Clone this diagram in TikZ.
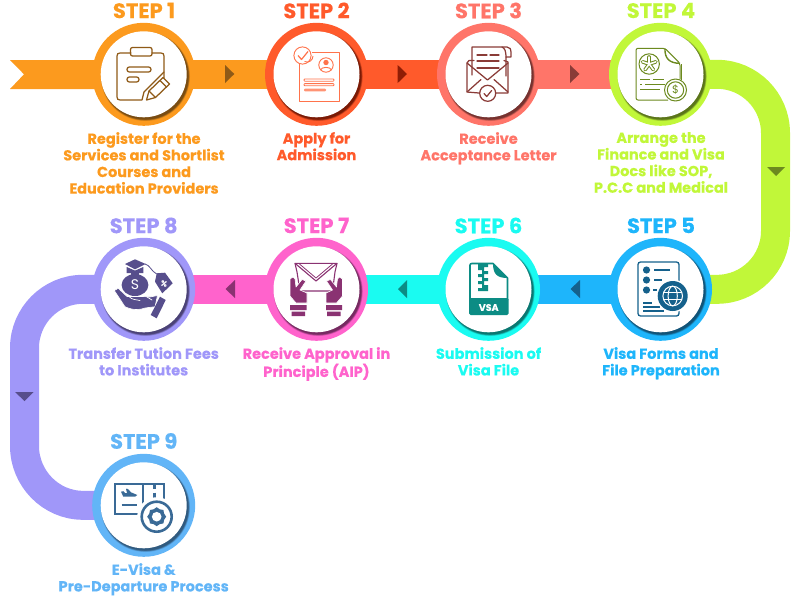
\documentclass[tikz,border=0pt]{standalone}
\usepackage{fontspec}
\setmainfont{Poppins}[BoldFeatures={FakeBold=0.35}]
\definecolor{cA}{HTML}{FC9A1E}\definecolor{dA}{HTML}{8F5A17}
\definecolor{cB}{HTML}{FF5A2B}\definecolor{dB}{HTML}{8F1D05}
\definecolor{cC}{HTML}{FF7569}\definecolor{dC}{HTML}{8A3B37}
\definecolor{cD}{HTML}{C1F739}\definecolor{dD}{HTML}{6C8A1F}
\definecolor{cE}{HTML}{1EB5FB}\definecolor{dE}{HTML}{15618C}
\definecolor{cF}{HTML}{1AFBF1}\definecolor{dF}{HTML}{0C8C84}
\definecolor{cG}{HTML}{FF63CC}\definecolor{dG}{HTML}{8A3272}
\definecolor{cH}{HTML}{A097F9}\definecolor{dH}{HTML}{574E8C}
\definecolor{cI}{HTML}{62B5F7}\definecolor{dI}{HTML}{3A6A96}
\tikzset{
 band/.style={line width=29pt,line cap=butt},
 steplabel/.style={font=\bfseries\fontsize{21}{21}\selectfont,inner sep=0pt,anchor=center},
 desc/.style={font=\bfseries\fontsize{14.5}{16.6}\selectfont,align=center,inner sep=0pt,anchor=north},
 ring/.style={circle,inner sep=0pt,minimum size=103pt,fill=#1},
 disc/.style={circle,inner sep=0pt,minimum size=86pt,fill=white},
 ln/.style={line width=1.25pt,line join=round,line cap=round},
}
\usetikzlibrary{calc}
\newcommand{\shadowdisc}[2]{%
 \foreach \rr/\op in {44.6/.18,44.2/.25,43.8/.35,43.4/.5,43/.7}{\fill[#2,opacity=\op] ($(#1)+(1.7,2.1)$) circle (\rr);}}
\newcommand{\stepper}[4]{% name, coord, ring colour, shadow colour
 \node[ring=#3] (#1) at (#2) {};
 \shadowdisc{#2}{#4}
 \node[disc] (#1w) at (#2) {};
}
\begin{document}
\begin{tikzpicture}[x=1pt,y=-1pt]
\useasboundingbox (0,0) rectangle (800,600);
\coordinate (c1) at (143.7,74.3);
\coordinate (c2) at (316.5,74.3);
\coordinate (c3) at (488.5,74.3);
\coordinate (c4) at (660.5,74.3);
\coordinate (c5) at (660.5,289.3);
\coordinate (c6) at (488.5,289.3);
\coordinate (c7) at (316.5,289.3);
\coordinate (c8) at (143.7,289.3);
\coordinate (c9) at (143.7,505.3);
\coordinate (tailtop) at (10,60);
\coordinate (tailmid) at (24,74.3);
\coordinate (tailbot) at (10,89);
% bands
\fill[cA] (tailtop) -- (tailmid) -- (tailbot) -- (c1|-tailbot) -- (c1|-tailtop) -- cycle;
\draw[band,cA] (c1) -- (c2);
\draw[band,cB] (c2) -- (c3);
\draw[band,cC] (c3) -- (c4);
\draw[band,cD] (c4) -- (717,74.3) .. controls (749.3,74.3) and (775.5,100.7) .. (775.5,133)
  -- (775.5,231) .. controls (775.5,263.3) and (749.3,289.3) .. (717,289.3) -- (c5);
\draw[band,cE] (c5) -- (c6);
\draw[band,cF] (c6) -- (c7);
\draw[band,cG] (c7) -- (c8);
\draw[band,cH] (c8) -- (83,289.3) .. controls (50.7,289.3) and (24.5,315.7) .. (24.5,348)
  -- (24.5,446) .. controls (24.5,478.3) and (50.7,505.3) .. (83,505.3) -- (c9);
% arrowheads on the bands
\fill[dA] (225,65) -- (234.3,74) -- (225,83) -- cycle;
\fill[dB] (397.7,65) -- (407,74) -- (397.7,83) -- cycle;
\fill[dC] (570,65) -- (579.5,74) -- (570,83) -- cycle;
\fill[dD] (767,167) -- (785,167) -- (776,176) -- cycle;
\fill[dE] (580,280) -- (570.5,289) -- (580,298) -- cycle;
\fill[dF] (407,280) -- (398,289) -- (407,298) -- cycle;
\fill[dG] (235,280) -- (225.5,289) -- (235,298) -- cycle;
\fill[dH] (15,392) -- (33.5,392) -- (24.5,401) -- cycle;
% circles
\stepper{s1}{c1}{cA}{dA!80!black}
\stepper{s2}{c2}{cB}{dB!80!black}
\stepper{s3}{c3}{cC}{dC!80!black}
\stepper{s4}{c4}{cD}{dD!80!black}
\stepper{s5}{c5}{cE}{dE!80!black}
\stepper{s6}{c6}{cF}{dF!80!black}
\stepper{s7}{c7}{cG}{dG!80!black}
\stepper{s8}{c8}{cH}{dH!80!black}
\stepper{s9}{c9}{cI}{dI!80!black}
% labels
\node[steplabel,cA] (t1) at (144,10.5) {STEP 1};
\node[steplabel,cB] (t2) at (316.5,10.5) {STEP 2};
\node[steplabel,cC] (t3) at (488.5,10.5) {STEP 3};
\node[steplabel,cD] (t4) at (661,10.5) {STEP 4};
\node[steplabel,cE] (t5) at (661,225.5) {STEP 5};
\node[steplabel,cF] (t6) at (488.5,225.5) {STEP 6};
\node[steplabel,cG] (t7) at (316.5,225.5) {STEP 7};
\node[steplabel,cH] (t8) at (143.7,225.5) {STEP 8};
\node[steplabel,cI] (t9) at (143.7,441) {STEP 9};
\node[desc,cA] (d1) at (144,132) {Register for the\\Services and Shortlist\\Courses and\\Education Providers};
\node[desc,cB] (d2) at (316.5,132) {Apply for\\Admission};
\node[desc,cC] (d3) at (488.5,132) {Receive\\Acceptance Letter};
\node[desc,cD] (d4) at (661,132) {Arrange the\\Finance and Visa\\Docs like SOP,\\P.C.C and Medical};
\node[desc,cE] (d5) at (661,347) {Visa Forms and\\File Preparation};
\node[desc,cF] (d6) at (488.5,347) {Submission of\\Visa File};
\node[desc,cG] (d7) at (316.5,347) {Receive Approval in\\Principle (AIP)};
\node[desc,cH] (d8) at (143.7,347) {Transfer Tution Fees\\to Institutes};
\node[desc,cI] (d9) at (143.7,563) {E-Visa \&\\Pre-Departure Process};
% icon 1
\begin{scope}[ln,draw=dA]
\draw (164,78) -- (164,56) .. controls (164,54) and (163,53) .. (161,53) -- (152,53);
\draw (131,53) -- (120,53) .. controls (118,53) and (117,54) .. (117,56) -- (117,97) .. controls (117,99) and (118,100) .. (120,100) -- (142,100) -- (144,92) -- (164,72);
\draw[rounded corners=2pt] (130.5,47.5) rectangle (152,56);
\draw[rounded corners=2.3pt] (127,67) rectangle (151,72);
\draw[rounded corners=2.3pt] (127,77) rectangle (139,82);
\draw[line join=round] (146.5,100) -- (149,91) -- (163,77.5) -- (169.5,84) -- (155.5,97.5) -- cycle;
\draw (160,80.5) -- (166.5,87);
\draw (149,91) -- (155.5,97.5);
\end{scope}
% icon 2
\begin{scope}[draw=cB!85!white,line width=.9pt,line join=round]
\draw (299,64) -- (299,101) -- (339,101) -- (339,52) -- (312,52);
\draw[fill=white] (302.5,55.5) circle (8.6);
\draw (304.5,61.5) .. controls (309,63.5) and (313,60) .. (313,56);
\draw[line width=1.2pt] (298,55.5) -- (301.5,59.5) -- (308,51.5);
\draw (326,65) circle (7.2);
\fill[cB!85!white] (326,62.5) circle (2.7);
\draw (320.5,70) .. controls (321.5,66.5) and (330.5,66.5) .. (331.5,70);
\draw[line width=.8pt,rounded corners=.8pt] (304,79) rectangle (334,81.2);
\draw[line width=.8pt,rounded corners=.8pt] (304,83.6) rectangle (334,85.8);
\fill[cB!65!white,rounded corners=1pt] (304,88.7) rectangle (326,91.3);
\end{scope}
% icon 3
\begin{scope}[ln,draw=dC]
\draw (474,60.5) -- (469,60.5) -- (467,63) -- (467,92) -- (479,93);
\draw (504,60.5) -- (508,62) -- (508,93) -- (496,93);
\draw (467,63) -- (487.5,80) -- (508,63);
\draw (467,92) -- (481,79.5);
\draw (508,92) -- (494,79.5);
\draw (472,75) -- (472,47) -- (507,47) .. controls (510,47) and (511,49) .. (511,53) -- (511,57) -- (506,57) -- (506,76);
\draw (502,47) .. controls (505,48) and (506,52) .. (506,57);
\draw[line width=1.3pt] (477,55) -- (487,55) (490,55) -- (499,55);
\draw[line width=1.3pt] (477,61) -- (499,61);
\draw[line width=1.3pt] (477,68) -- (499,68);
\draw[fill=white] (487.7,93.3) circle (8);
\draw (484,93.5) -- (486.7,96.5) -- (491.7,90.5);
\end{scope}
% icon 4
\begin{scope}[draw=dD,line width=1pt,line join=round]
\draw[rounded corners=2pt] (668,100) -- (636,100) -- (636,48.3) -- (665,48.3) -- (680,63.3) -- (680,79);
\draw[line width=1.8pt] (681.5,64) -- (681.5,80);
\draw[line width=1.4pt] (665,48.3) .. controls (664.5,58) and (669,63.3) .. (680,63.3);
\draw (649.2,64) circle (10.2);
\foreach \a in {90,162,234,306,18}{\draw[line width=3.6pt,line cap=round] (649.2,64) -- ++({7*cos(\a)},{-7*sin(\a)});}
\foreach \a in {90,162,234,306,18}{\draw[white,line width=1.6pt,line cap=round] (649.2,64) -- ++({7*cos(\a)},{-7*sin(\a)});}
\draw (640,79.3) -- (650,79.3) (653,79.3) -- (664,79.3);
\draw (640,84.3) -- (642,84.3) (645,84.3) -- (665,84.3);
\draw (640,89.3) -- (660,89.3);
\draw[fill=white] (675.5,90) circle (11);
\draw (675.5,90) circle (8.2);
\node[dD,inner sep=0pt,font=\fontsize{11}{11}\selectfont] (dollar4) at (675.5,90) {\$};
\end{scope}
% icon 5
\begin{scope}[draw=dE,line width=1.3pt]
\draw[rounded corners=2.5pt] (638,262) rectangle (679,316);
\fill[dE] (646.5,270) circle (3.6) (646.5,280) circle (3.6) (646.5,290) circle (3.6);
\draw (654,270) -- (670,270) (654,280) -- (662,280) (653,290) -- (657,290);
\draw (643,303) -- (652,303) (643,307) -- (660,307) (643,311) -- (664,311);
\fill[white] (672.7,296) circle (16.5);
\fill[dE] (672.7,296) circle (15);
\draw[white,line width=1pt] (672.7,296) circle (9.8);
\draw[white,line width=1pt] (672.7,296) ellipse (4.6 and 9.8);
\draw[white,line width=1pt] (663.5,292.5) -- (682,292.5) (663.5,299.5) -- (682,299.5);
\end{scope}
% icon 6
\begin{scope}
\draw[dF,line width=1.6pt,line join=round] (470,300) -- (470,265) .. controls (470,264) and (471,263.5) .. (472,263.5) -- (493,263.5) -- (507.5,278) -- (507.5,300);
\fill[dF] (493,263.5) .. controls (493,274) and (497,278) .. (507.5,278) -- cycle;
\fill[dF,rounded corners=1.5pt] (469,298) rectangle (508.5,315);
\fill[dF] (478,264) -- (488,264) -- (488,267) -- (484,267) -- (484,271) -- (488,271) -- (488,274) -- (484,274) -- (484,278) -- (488,278) -- (488,281) -- (484,281) -- (484,285) -- (488,285) -- (488,291) -- (478,291) -- (478,288) -- (482,288) -- (482,284) -- (478,284) -- (478,281) -- (482,281) -- (482,277) -- (478,277) -- (478,274) -- (482,274) -- (482,270) -- (478,270) -- cycle;
\node[white,inner sep=0pt,font=\bfseries\fontsize{9.5}{9.5}\selectfont] (vsa) at (488.7,307.5) {VSA};
\end{scope}
% icon 7
\begin{scope}[line join=round]
\draw[dG,line width=1.1pt] (295,263.3) -- (337,263.3) -- (335,272) -- (332.5,291) -- (300,291) -- (297,272) -- cycle;
\draw[dG,line width=1.1pt] (295,263.3) -- (316,281) -- (337,263.3);
\draw[dG,line width=.8pt] (299.5,264) -- (316,278) -- (332.5,264);
\fill[dG,draw=white,line width=.6pt] (290,279) -- (293,277) -- (295,279) -- (296,287) -- (302,279.5) -- (306,281) -- (300,290) -- (307,293) -- (307,303) -- (296,303) -- (290,296) -- cycle;
\fill[dG,draw=white,line width=.6pt] (342.5,279) -- (339.5,277) -- (337.5,279) -- (336.5,287) -- (330.5,279.5) -- (326.5,281) -- (332.5,290) -- (326,293) -- (326,303) -- (336.5,303) -- (342.5,296) -- cycle;
\fill[dG] (290,305) rectangle (306.7,310) (291.7,311.5) rectangle (305,316);
\fill[dG] (326,305) rectangle (342,310) (327,311.5) rectangle (340.5,316);
\end{scope}
% icon 8
\begin{scope}[line join=round]
\fill[dH] (135,285) ellipse (13.4 and 11);
\fill[dH] (131,272) rectangle (139,280);
\fill[dH] (126.7,267) -- (135,270.6) -- (143.3,267) -- (143.3,273) -- (126.7,273) -- cycle;
\fill[dH] (125,264) -- (135,259.3) -- (145.7,264) -- (135,269.3) -- cycle;
\draw[dH,line width=.8pt] (145,264) .. controls (150,265) and (151,271) .. (156.7,274);
\fill[dH] (156.7,273.3) -- (165,272.7) -- (172.7,283.3) -- (162.3,293.3) -- (155,281.7) -- cycle;
\node[white,inner sep=0pt,rotate=-20,font=\bfseries\fontsize{7.5}{7.5}\selectfont] (pct8) at (164,283.5) {\%};
\node[white,inner sep=0pt,font=\fontsize{14}{14}\selectfont] (dollar8) at (135,285) {S};
\fill[dH,draw=white,line width=.6pt] (114.3,290.5) -- (118.3,288.3) -- (127,296.5) -- (143,296.5) -- (150,297) -- (157.5,295.5) -- (155,306.7) -- (145,308) .. controls (140,310) and (133,310.5) .. (125,306.7) -- cycle;
\draw[white,line width=.7pt,line cap=round] (129,296.5) .. controls (132,300) and (136,299.5) .. (140,300.5);
\draw[white,line width=.7pt,line cap=round] (147,297) -- (152,300);
\fill[dH] (160,296.7) -- (165.7,300) -- (156.7,318.3) -- (150.7,315) -- cycle;
\end{scope}
% icon 9
\begin{scope}[draw=dI,line width=2pt]
\draw (115,484.3) rectangle (163.5,513.5);
\draw (142.5,484.3) -- (142.5,513.5);
\draw[line width=2.4pt] (154.3,484) -- (154.3,489) (154.3,492.5) -- (154.3,497.5);
\fill[dI] (121,491.7) -- (123.3,491.2) -- (125,493) -- (127,493) -- (126,488.7) -- (128,489) -- (131,492.3) -- (137.3,495) -- (135,496.7) -- (123.3,496.7) -- cycle;
\draw[line width=2.6pt] (121.7,505) -- (136.7,505);
\fill[white] (156.7,516.7) circle (19.5);
\draw[line width=2.6pt] (156.7,516.7) circle (15);
\fill[dI] (156.7,507.2) \foreach \a in {22.5,45,...,360}{ -- ++(0,0) -- ({156.7+(mod(\a,45)==0 ? 9.5 : 8)*sin(\a)},{516.7-(mod(\a,45)==0 ? 9.5 : 8)*cos(\a)})} -- cycle;
\fill[white] (156.7,516.7) circle (4.8);
\end{scope}
\end{tikzpicture}
\end{document}
